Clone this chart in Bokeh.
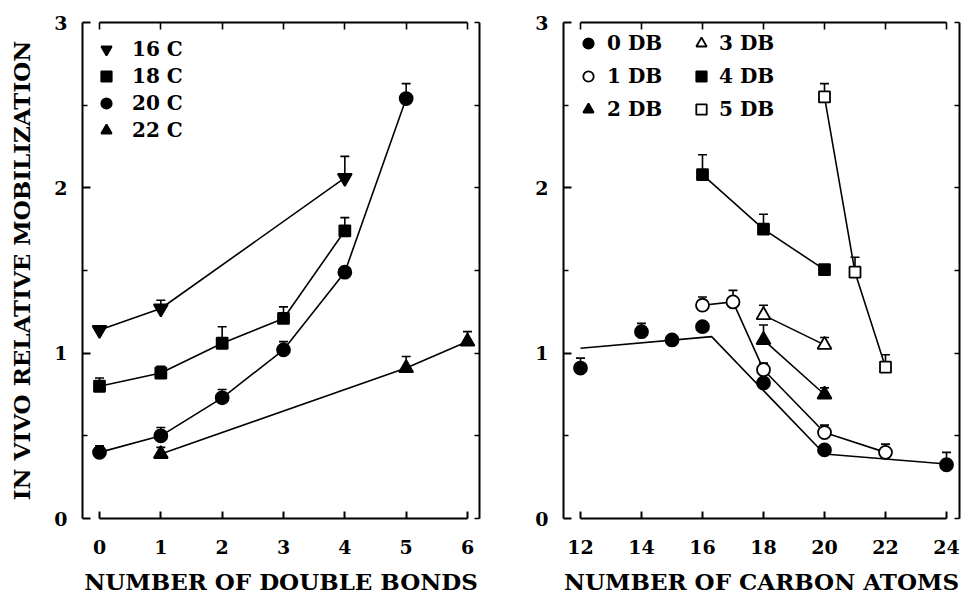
from bokeh.plotting import figure
from bokeh.models import (ColumnDataSource, Whisker, TeeHead, LinearAxis, Range1d,
                          FixedTicker, Legend, LegendItem)
from bokeh.layouts import row
from bokeh.embed import file_html
from bokeh.resources import INLINE

FONT = "DejaVu Serif"

# ---------------- Left panel: mobilization vs number of double bonds ----------------
left_xticks = [0, 1, 2, 3, 4, 5, 6]
y_ticks = [0, 0.5, 1, 1.5, 2, 2.5, 3]
left_series = ["16 C", "18 C", "20 C", "22 C"]

db_16c = [0, 1, 4]
val_16c = [1.14, 1.27, 2.06]
err_16c = [None, 1.32, 2.19]

db_18c = [0, 1, 2, 3, 4]
val_18c = [0.80, 0.88, 1.06, 1.21, 1.74]
err_18c = [0.85, 0.92, 1.16, 1.28, 1.82]

db_20c = [0, 1, 2, 3, 4, 5]
val_20c = [0.40, 0.50, 0.73, 1.02, 1.49, 2.54]
err_20c = [0.44, 0.55, 0.78, 1.07, None, 2.63]

db_22c = [1, 5, 6]
val_22c = [0.39, 0.91, 1.07]
err_22c = [0.43, 0.98, 1.13]

# ---------------- Right panel: mobilization vs number of carbon atoms ----------------
right_xticks = [12, 14, 16, 18, 20, 22, 24]
right_series = ["0 DB", "1 DB", "2 DB", "3 DB", "4 DB", "5 DB"]

c_0db = [12, 14, 15, 16, 18, 20, 24]
val_0db = [0.91, 1.13, 1.08, 1.16, 0.82, 0.415, 0.325]
err_0db = [0.97, 1.18, None, None, None, None, 0.40]
fit_0db_x = [12, 16.3, 20, 24]
fit_0db_y = [1.03, 1.10, 0.39, 0.33]

c_1db = [16, 17, 18, 20, 22]
val_1db = [1.29, 1.31, 0.90, 0.52, 0.40]
err_1db = [1.34, 1.38, 0.94, 0.565, 0.45]

c_2db = [18, 20]
val_2db = [1.08, 0.75]
err_2db = [1.17, 0.79]

c_3db = [18, 20]
val_3db = [1.23, 1.05]
err_3db = [1.29, 1.095]

c_4db = [16, 18, 20]
val_4db = [2.08, 1.75, 1.505]
err_4db = [2.20, 1.84, None]

c_5db = [20, 21, 22]
val_5db = [2.55, 1.49, 0.915]
err_5db = [2.63, 1.58, 0.99]


def style_axis(ax, major_in=8, minor_in=4, standoff=15):
    ax.axis_line_width = 2
    ax.axis_line_color = "black"
    ax.major_tick_in = major_in
    ax.major_tick_out = 0
    ax.minor_tick_in = minor_in
    ax.minor_tick_out = 0
    ax.major_tick_line_width = 2
    ax.minor_tick_line_width = 1.6
    ax.major_tick_line_color = "black"
    ax.minor_tick_line_color = "black"
    ax.major_label_text_font = FONT
    ax.major_label_text_font_style = "bold"
    ax.major_label_text_color = "black"
    ax.major_label_text_font_size = "19px"
    ax.major_label_standoff = standoff
    ax.axis_label_text_font = FONT
    ax.axis_label_text_font_style = "bold"
    ax.axis_label_text_font_size = "23px"
    ax.axis_label_text_color = "black"


def make_fig(width, x_range, min_left, min_right, min_top, min_bottom, xticks):
    p = figure(width=width, height=598, x_range=x_range, y_range=Range1d(0, 3),
               output_backend="svg", toolbar_location=None,
               min_border_left=min_left, min_border_right=min_right,
               min_border_top=min_top, min_border_bottom=min_bottom)
    p.outline_line_color = None
    p.xgrid.visible = False
    p.ygrid.visible = False
    p.background_fill_color = "white"
    p.border_fill_color = "white"

    xb = p.xaxis[0]
    yl = p.yaxis[0]
    xbounds = (min(xticks), max(xticks))
    xb.ticker = FixedTicker(ticks=xticks)
    xb.bounds = xbounds
    style_axis(xb, major_in=7, standoff=21)

    yl.ticker = FixedTicker(ticks=[t for t in y_ticks if t == int(t)],
                            minor_ticks=[t for t in y_ticks if t != int(t)])
    yl.bounds = (0, 3)
    style_axis(yl, major_in=8, minor_in=5, standoff=15)

    # mirror axes: only minor (unlabelled) ticks
    xt = LinearAxis(ticker=FixedTicker(ticks=[], minor_ticks=xticks), bounds=xbounds)
    style_axis(xt, minor_in=7)
    p.add_layout(xt, "above")

    yr = LinearAxis(ticker=FixedTicker(ticks=[], minor_ticks=y_ticks), bounds=(0, 3))
    style_axis(yr, minor_in=5)
    p.add_layout(yr, "right")
    return p, xb, yl


def add_series(p, xs, ys, errs, marker, size, filled, connect=True):
    if connect:
        p.line(xs, ys, line_color="black", line_width=1.6)
    ex = [x for x, e in zip(xs, errs) if e is not None]
    ey = [y for y, e in zip(ys, errs) if e is not None]
    eu = [e for e in errs if e is not None]
    if ex:
        src = ColumnDataSource(dict(base=ex, lower=ey, upper=eu))
        w = Whisker(base="base", lower="lower", upper="upper", source=src,
                    dimension="height", line_color="black", line_width=1.6,
                    upper_head=TeeHead(size=9, line_width=1.6, line_color="black"),
                    lower_head=None)
        p.add_layout(w)
    r = p.scatter(xs, ys, marker=marker, size=size,
                  fill_color="black" if filled else "white",
                  line_color="black", line_width=1.8)
    return r


def make_legend(items, loc, standoff, spacing):
    return Legend(items=items, location=loc, border_line_color=None,
                  background_fill_alpha=0, glyph_width=26, glyph_height=26,
                  label_standoff=standoff, padding=0, margin=0, spacing=spacing,
                  label_text_font=FONT, label_text_font_style="bold",
                  label_text_font_size="20px", label_text_color="black")


# ---------- left figure ----------
left, lx, ly = make_fig(500, Range1d(-0.2772, 6.1957), 82, 21, 22, 79, left_xticks)
lx.axis_label = "NUMBER OF DOUBLE BONDS"
lx.axis_label_standoff = 11
ly.axis_label = "IN VIVO RELATIVE MOBILIZATION"
ly.axis_label_standoff = 16

r16 = add_series(left, db_16c, val_16c, err_16c, "inverted_triangle", 14, True)
r18 = add_series(left, db_18c, val_18c, err_18c, "square", 11, True)
r20 = add_series(left, db_20c, val_20c, err_20c, "circle", 13, True)
r22 = add_series(left, db_22c, val_22c, err_22c, "triangle", 14, True)

left.add_layout(make_legend(
    [LegendItem(label=lbl, renderers=[r]) for lbl, r in zip(left_series, [r16, r18, r20, r22])],
    (11, 375), 13, 1))

# ---------- right figure ----------
right, rx, ry = make_fig(462, Range1d(11.443, 24.426), 63, 3, 19, 80, right_xticks)
rx.axis_label = "NUMBER OF CARBON ATOMS"
rx.axis_label_standoff = 11

right.line(fit_0db_x, fit_0db_y, line_color="black", line_width=1.6)
r0 = add_series(right, c_0db, val_0db, err_0db, "circle", 13, True, connect=False)
r1 = add_series(right, c_1db, val_1db, err_1db, "circle", 13, False)
r2 = add_series(right, c_2db, val_2db, err_2db, "triangle", 14, True)
r3 = add_series(right, c_3db, val_3db, err_3db, "triangle", 14, False)
r4 = add_series(right, c_4db, val_4db, err_4db, "square", 11, True)
r5 = add_series(right, c_5db, val_5db, err_5db, "square", 11, False)

rends = [r0, r1, r2, r3, r4, r5]
right.add_layout(make_legend(
    [LegendItem(label=lbl, renderers=[r]) for lbl, r in zip(right_series[:3], rends[:3])],
    (12, 396), 6, 7))
right.add_layout(make_legend(
    [LegendItem(label=lbl, renderers=[r]) for lbl, r in zip(right_series[3:], rends[3:])],
    (125, 396), 5, 7))

layout = row(left, right)
open("out.html", "w").write(file_html(layout, INLINE))
